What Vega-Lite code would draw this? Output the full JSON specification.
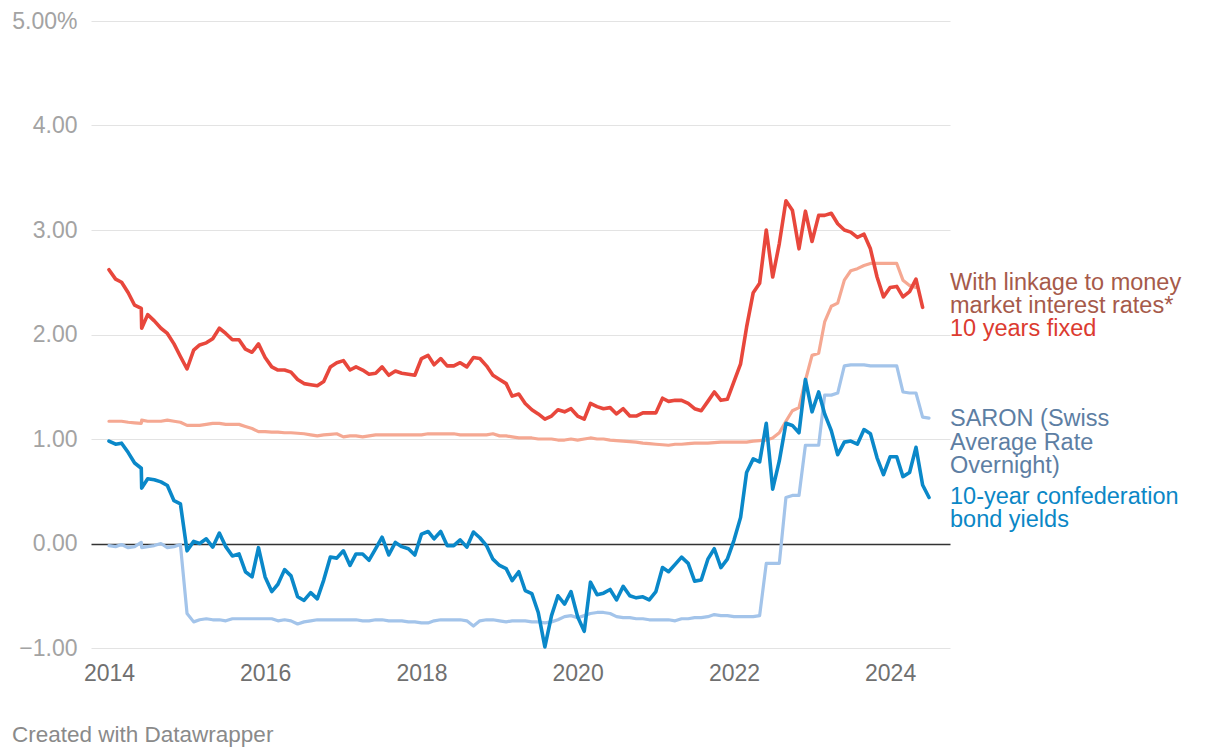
{
  "$schema": "https://vega.github.io/schema/vega-lite/v6.json",
  "width": 859,
  "height": 627,
  "autosize": {"type": "none"},
  "padding": {"left": 91, "top": 21, "right": 270, "bottom": 108},
  "background": "#ffffff",
  "title": {
    "text": "Created with Datawrapper",
    "orient": "bottom",
    "anchor": "start",
    "frame": "group",
    "dx": -79,
    "offset": 39,
    "font": "Liberation Sans",
    "fontSize": 22.5,
    "fontWeight": "normal",
    "color": "#8a8a8a"
  },
  "data": {
    "values": [
      {"date": "2014-01-01", "fixed": 2.62, "linkage": 1.17, "saron": -0.02, "bond": 0.98},
      {"date": "2014-02-01", "fixed": 2.53, "linkage": 1.17, "saron": -0.03, "bond": 0.95},
      {"date": "2014-03-01", "fixed": 2.50, "linkage": 1.17, "saron": -0.01, "bond": 0.96},
      {"date": "2014-04-01", "fixed": 2.40, "linkage": 1.16, "saron": -0.04, "bond": 0.87},
      {"date": "2014-05-01", "fixed": 2.28, "linkage": 1.155, "saron": -0.03, "bond": 0.77},
      {"date": "2014-06-01", "fixed": 2.25, "linkage": 1.15, "saron": 0.01, "bond": 0.72},
      {"date": "2014-06-03", "fixed": 2.06, "linkage": 1.18, "saron": -0.04, "bond": 0.53},
      {"date": "2014-07-01", "fixed": 2.19, "linkage": 1.17, "saron": -0.03, "bond": 0.62},
      {"date": "2014-08-01", "fixed": 2.13, "linkage": 1.17, "saron": -0.02, "bond": 0.61},
      {"date": "2014-09-01", "fixed": 2.06, "linkage": 1.17, "saron": 0.00, "bond": 0.59},
      {"date": "2014-10-01", "fixed": 2.01, "linkage": 1.18, "saron": -0.04, "bond": 0.555},
      {"date": "2014-11-01", "fixed": 1.91, "linkage": 1.17, "saron": -0.03, "bond": 0.41},
      {"date": "2014-12-01", "fixed": 1.79, "linkage": 1.16, "saron": -0.01, "bond": 0.38},
      {"date": "2015-01-01", "fixed": 1.67, "linkage": 1.13, "saron": -0.67, "bond": -0.07},
      {"date": "2015-02-01", "fixed": 1.85, "linkage": 1.13, "saron": -0.75, "bond": 0.02},
      {"date": "2015-03-01", "fixed": 1.90, "linkage": 1.13, "saron": -0.73, "bond": 0.00},
      {"date": "2015-04-01", "fixed": 1.92, "linkage": 1.14, "saron": -0.72, "bond": 0.045},
      {"date": "2015-05-01", "fixed": 1.96, "linkage": 1.15, "saron": -0.73, "bond": -0.035},
      {"date": "2015-06-01", "fixed": 2.06, "linkage": 1.15, "saron": -0.73, "bond": 0.10},
      {"date": "2015-07-01", "fixed": 2.01, "linkage": 1.14, "saron": -0.74, "bond": -0.03},
      {"date": "2015-08-01", "fixed": 1.95, "linkage": 1.14, "saron": -0.72, "bond": -0.12},
      {"date": "2015-09-01", "fixed": 1.95, "linkage": 1.14, "saron": -0.72, "bond": -0.10},
      {"date": "2015-10-01", "fixed": 1.86, "linkage": 1.12, "saron": -0.72, "bond": -0.27},
      {"date": "2015-11-01", "fixed": 1.83, "linkage": 1.10, "saron": -0.72, "bond": -0.32},
      {"date": "2015-12-01", "fixed": 1.91, "linkage": 1.07, "saron": -0.72, "bond": -0.04},
      {"date": "2016-01-01", "fixed": 1.78, "linkage": 1.07, "saron": -0.72, "bond": -0.32},
      {"date": "2016-02-01", "fixed": 1.69, "linkage": 1.065, "saron": -0.72, "bond": -0.46},
      {"date": "2016-03-01", "fixed": 1.66, "linkage": 1.065, "saron": -0.74, "bond": -0.39},
      {"date": "2016-04-01", "fixed": 1.66, "linkage": 1.06, "saron": -0.73, "bond": -0.25},
      {"date": "2016-05-01", "fixed": 1.64, "linkage": 1.06, "saron": -0.74, "bond": -0.31},
      {"date": "2016-06-01", "fixed": 1.57, "linkage": 1.055, "saron": -0.77, "bond": -0.51},
      {"date": "2016-07-01", "fixed": 1.53, "linkage": 1.05, "saron": -0.75, "bond": -0.545},
      {"date": "2016-08-01", "fixed": 1.52, "linkage": 1.04, "saron": -0.74, "bond": -0.47},
      {"date": "2016-09-01", "fixed": 1.51, "linkage": 1.03, "saron": -0.73, "bond": -0.53},
      {"date": "2016-10-01", "fixed": 1.55, "linkage": 1.04, "saron": -0.73, "bond": -0.35},
      {"date": "2016-11-01", "fixed": 1.69, "linkage": 1.045, "saron": -0.73, "bond": -0.13},
      {"date": "2016-12-01", "fixed": 1.73, "linkage": 1.05, "saron": -0.73, "bond": -0.14},
      {"date": "2017-01-01", "fixed": 1.75, "linkage": 1.02, "saron": -0.73, "bond": -0.07},
      {"date": "2017-02-01", "fixed": 1.66, "linkage": 1.03, "saron": -0.73, "bond": -0.21},
      {"date": "2017-03-01", "fixed": 1.69, "linkage": 1.03, "saron": -0.73, "bond": -0.10},
      {"date": "2017-04-01", "fixed": 1.66, "linkage": 1.02, "saron": -0.74, "bond": -0.10},
      {"date": "2017-05-01", "fixed": 1.62, "linkage": 1.03, "saron": -0.74, "bond": -0.16},
      {"date": "2017-06-01", "fixed": 1.63, "linkage": 1.04, "saron": -0.73, "bond": -0.05},
      {"date": "2017-07-01", "fixed": 1.69, "linkage": 1.04, "saron": -0.73, "bond": 0.06},
      {"date": "2017-08-01", "fixed": 1.61, "linkage": 1.04, "saron": -0.74, "bond": -0.11},
      {"date": "2017-09-01", "fixed": 1.65, "linkage": 1.04, "saron": -0.74, "bond": 0.01},
      {"date": "2017-10-01", "fixed": 1.63, "linkage": 1.04, "saron": -0.74, "bond": -0.03},
      {"date": "2017-11-01", "fixed": 1.62, "linkage": 1.04, "saron": -0.75, "bond": -0.05},
      {"date": "2017-12-01", "fixed": 1.61, "linkage": 1.04, "saron": -0.75, "bond": -0.11},
      {"date": "2018-01-01", "fixed": 1.77, "linkage": 1.04, "saron": -0.76, "bond": 0.09},
      {"date": "2018-02-01", "fixed": 1.80, "linkage": 1.05, "saron": -0.76, "bond": 0.115},
      {"date": "2018-03-01", "fixed": 1.71, "linkage": 1.05, "saron": -0.74, "bond": 0.045},
      {"date": "2018-04-01", "fixed": 1.77, "linkage": 1.05, "saron": -0.73, "bond": 0.115},
      {"date": "2018-05-01", "fixed": 1.70, "linkage": 1.05, "saron": -0.73, "bond": -0.02},
      {"date": "2018-06-01", "fixed": 1.70, "linkage": 1.05, "saron": -0.73, "bond": -0.02},
      {"date": "2018-07-01", "fixed": 1.73, "linkage": 1.04, "saron": -0.73, "bond": 0.035},
      {"date": "2018-08-01", "fixed": 1.69, "linkage": 1.04, "saron": -0.74, "bond": -0.035},
      {"date": "2018-09-01", "fixed": 1.78, "linkage": 1.04, "saron": -0.79, "bond": 0.11},
      {"date": "2018-10-01", "fixed": 1.77, "linkage": 1.04, "saron": -0.74, "bond": 0.055},
      {"date": "2018-11-01", "fixed": 1.70, "linkage": 1.04, "saron": -0.73, "bond": -0.02},
      {"date": "2018-12-01", "fixed": 1.61, "linkage": 1.05, "saron": -0.73, "bond": -0.15},
      {"date": "2019-01-01", "fixed": 1.57, "linkage": 1.03, "saron": -0.74, "bond": -0.21},
      {"date": "2019-02-01", "fixed": 1.53, "linkage": 1.03, "saron": -0.75, "bond": -0.24},
      {"date": "2019-03-01", "fixed": 1.41, "linkage": 1.02, "saron": -0.74, "bond": -0.355},
      {"date": "2019-04-01", "fixed": 1.43, "linkage": 1.01, "saron": -0.74, "bond": -0.27},
      {"date": "2019-05-01", "fixed": 1.34, "linkage": 1.01, "saron": -0.74, "bond": -0.45},
      {"date": "2019-06-01", "fixed": 1.28, "linkage": 1.01, "saron": -0.75, "bond": -0.48},
      {"date": "2019-07-01", "fixed": 1.24, "linkage": 1.00, "saron": -0.75, "bond": -0.66},
      {"date": "2019-08-01", "fixed": 1.19, "linkage": 1.00, "saron": -0.76, "bond": -0.99},
      {"date": "2019-09-01", "fixed": 1.22, "linkage": 1.00, "saron": -0.75, "bond": -0.69},
      {"date": "2019-10-01", "fixed": 1.28, "linkage": 0.99, "saron": -0.73, "bond": -0.50},
      {"date": "2019-11-01", "fixed": 1.26, "linkage": 0.99, "saron": -0.70, "bond": -0.58},
      {"date": "2019-12-01", "fixed": 1.29, "linkage": 1.00, "saron": -0.69, "bond": -0.46},
      {"date": "2020-01-01", "fixed": 1.22, "linkage": 0.99, "saron": -0.71, "bond": -0.70},
      {"date": "2020-02-01", "fixed": 1.19, "linkage": 1.00, "saron": -0.69, "bond": -0.84},
      {"date": "2020-03-01", "fixed": 1.34, "linkage": 1.01, "saron": -0.67, "bond": -0.37},
      {"date": "2020-04-01", "fixed": 1.31, "linkage": 1.00, "saron": -0.66, "bond": -0.49},
      {"date": "2020-05-01", "fixed": 1.29, "linkage": 1.00, "saron": -0.66, "bond": -0.475},
      {"date": "2020-06-01", "fixed": 1.30, "linkage": 0.99, "saron": -0.67, "bond": -0.44},
      {"date": "2020-07-01", "fixed": 1.24, "linkage": 0.985, "saron": -0.70, "bond": -0.54},
      {"date": "2020-08-01", "fixed": 1.29, "linkage": 0.98, "saron": -0.71, "bond": -0.41},
      {"date": "2020-09-01", "fixed": 1.22, "linkage": 0.975, "saron": -0.71, "bond": -0.50},
      {"date": "2020-10-01", "fixed": 1.22, "linkage": 0.97, "saron": -0.72, "bond": -0.52},
      {"date": "2020-11-01", "fixed": 1.25, "linkage": 0.96, "saron": -0.72, "bond": -0.51},
      {"date": "2020-12-01", "fixed": 1.25, "linkage": 0.955, "saron": -0.73, "bond": -0.54},
      {"date": "2021-01-01", "fixed": 1.25, "linkage": 0.95, "saron": -0.73, "bond": -0.46},
      {"date": "2021-02-01", "fixed": 1.39, "linkage": 0.945, "saron": -0.73, "bond": -0.23},
      {"date": "2021-03-01", "fixed": 1.36, "linkage": 0.94, "saron": -0.73, "bond": -0.27},
      {"date": "2021-04-01", "fixed": 1.37, "linkage": 0.95, "saron": -0.74, "bond": -0.20},
      {"date": "2021-05-01", "fixed": 1.37, "linkage": 0.95, "saron": -0.72, "bond": -0.13},
      {"date": "2021-06-01", "fixed": 1.34, "linkage": 0.955, "saron": -0.72, "bond": -0.19},
      {"date": "2021-07-01", "fixed": 1.29, "linkage": 0.96, "saron": -0.71, "bond": -0.36},
      {"date": "2021-08-01", "fixed": 1.27, "linkage": 0.96, "saron": -0.71, "bond": -0.35},
      {"date": "2021-09-01", "fixed": 1.36, "linkage": 0.96, "saron": -0.70, "bond": -0.15},
      {"date": "2021-10-01", "fixed": 1.45, "linkage": 0.965, "saron": -0.68, "bond": -0.05},
      {"date": "2021-11-01", "fixed": 1.37, "linkage": 0.97, "saron": -0.69, "bond": -0.23},
      {"date": "2021-12-01", "fixed": 1.38, "linkage": 0.97, "saron": -0.69, "bond": -0.15},
      {"date": "2022-01-01", "fixed": 1.55, "linkage": 0.97, "saron": -0.70, "bond": 0.03},
      {"date": "2022-02-01", "fixed": 1.72, "linkage": 0.97, "saron": -0.70, "bond": 0.25},
      {"date": "2022-03-01", "fixed": 2.07, "linkage": 0.97, "saron": -0.70, "bond": 0.68},
      {"date": "2022-04-01", "fixed": 2.40, "linkage": 0.98, "saron": -0.70, "bond": 0.81},
      {"date": "2022-05-01", "fixed": 2.49, "linkage": 0.985, "saron": -0.69, "bond": 0.78},
      {"date": "2022-06-01", "fixed": 3.00, "linkage": 0.99, "saron": -0.19, "bond": 1.15},
      {"date": "2022-07-01", "fixed": 2.55, "linkage": 1.01, "saron": -0.19, "bond": 0.52},
      {"date": "2022-08-01", "fixed": 2.87, "linkage": 1.06, "saron": -0.19, "bond": 0.79},
      {"date": "2022-09-01", "fixed": 3.28, "linkage": 1.17, "saron": 0.44, "bond": 1.15},
      {"date": "2022-10-01", "fixed": 3.19, "linkage": 1.27, "saron": 0.46, "bond": 1.13},
      {"date": "2022-11-01", "fixed": 2.82, "linkage": 1.30, "saron": 0.46, "bond": 1.06},
      {"date": "2022-12-01", "fixed": 3.18, "linkage": 1.56, "saron": 0.94, "bond": 1.57},
      {"date": "2023-01-01", "fixed": 2.89, "linkage": 1.80, "saron": 0.94, "bond": 1.26},
      {"date": "2023-02-01", "fixed": 3.14, "linkage": 1.82, "saron": 0.94, "bond": 1.45},
      {"date": "2023-03-01", "fixed": 3.14, "linkage": 2.12, "saron": 1.42, "bond": 1.24},
      {"date": "2023-04-01", "fixed": 3.16, "linkage": 2.27, "saron": 1.42, "bond": 1.08},
      {"date": "2023-05-01", "fixed": 3.06, "linkage": 2.30, "saron": 1.44, "bond": 0.85},
      {"date": "2023-06-01", "fixed": 3.00, "linkage": 2.52, "saron": 1.70, "bond": 0.97},
      {"date": "2023-07-01", "fixed": 2.98, "linkage": 2.61, "saron": 1.71, "bond": 0.98},
      {"date": "2023-08-01", "fixed": 2.93, "linkage": 2.63, "saron": 1.71, "bond": 0.95},
      {"date": "2023-09-01", "fixed": 2.96, "linkage": 2.66, "saron": 1.71, "bond": 1.09},
      {"date": "2023-10-01", "fixed": 2.82, "linkage": 2.68, "saron": 1.70, "bond": 1.05},
      {"date": "2023-11-01", "fixed": 2.55, "linkage": 2.68, "saron": 1.70, "bond": 0.82},
      {"date": "2023-12-01", "fixed": 2.36, "linkage": 2.68, "saron": 1.70, "bond": 0.66},
      {"date": "2024-01-01", "fixed": 2.45, "linkage": 2.68, "saron": 1.70, "bond": 0.83},
      {"date": "2024-02-01", "fixed": 2.46, "linkage": 2.68, "saron": 1.70, "bond": 0.83},
      {"date": "2024-03-01", "fixed": 2.36, "linkage": 2.52, "saron": 1.45, "bond": 0.64},
      {"date": "2024-04-01", "fixed": 2.41, "linkage": 2.47, "saron": 1.44, "bond": 0.68},
      {"date": "2024-05-01", "fixed": 2.53, "linkage": 2.45, "saron": 1.44, "bond": 0.92},
      {"date": "2024-06-01", "fixed": 2.26, "linkage": null, "saron": 1.21, "bond": 0.56},
      {"date": "2024-07-01", "fixed": null, "linkage": null, "saron": 1.20, "bond": 0.44}
    ]
  },
  "encoding": {
    "x": {
      "field": "date",
      "type": "temporal",
      "scale": {
        "type": "utc",
        "domain": [
          {"year": 2013, "month": 10, "date": 9, "utc": true},
          {"year": 2024, "month": 10, "date": 7, "utc": true}
        ]
      },
      "axis": {
        "title": null,
        "values": [
          {"year": 2014, "utc": true},
          {"year": 2016, "utc": true},
          {"year": 2018, "utc": true},
          {"year": 2020, "utc": true},
          {"year": 2022, "utc": true},
          {"year": 2024, "utc": true}
        ],
        "format": "%Y",
        "grid": false,
        "domain": false,
        "ticks": false,
        "tickSize": 0,
        "labelPadding": 14,
        "labelFont": "Liberation Sans",
        "labelFontSize": 23,
        "labelColor": "#707070",
        "labelFlush": false,
        "labelOverlap": false
      }
    },
    "y": {
      "field": "value",
      "type": "quantitative",
      "scale": {"domain": [-1, 5], "nice": false, "zero": false},
      "axis": {
        "title": null,
        "values": [-1, 0, 1, 2, 3, 4, 5],
        "labelExpr": "datum.value == 5 ? '5.00%' : format(datum.value, '.2f')",
        "grid": true,
        "gridColor": {"condition": {"test": "datum.value === 0", "value": "#333333"}, "value": "#e3e3e3"},
        "gridWidth": {"condition": {"test": "datum.value === 0", "value": 1.6}, "value": 1},
        "domain": false,
        "ticks": false,
        "tickSize": 0,
        "labelPadding": 14,
        "labelFont": "Liberation Sans",
        "labelFontSize": 23,
        "labelColor": "#a3a3a3"
      }
    }
  },
  "layer": [
    {
      "transform": [{"fold": ["linkage"], "as": ["series", "value"]}],
      "mark": {"type": "line", "color": "#f5a892", "strokeWidth": 3.2, "strokeJoin": "round", "strokeCap": "round"}
    },
    {
      "transform": [{"fold": ["saron"], "as": ["series", "value"]}],
      "mark": {"type": "line", "color": "#a3c4ea", "strokeWidth": 3.2, "strokeJoin": "round", "strokeCap": "round"}
    },
    {
      "transform": [{"fold": ["fixed"], "as": ["series", "value"]}],
      "mark": {"type": "line", "color": "#e8473c", "strokeWidth": 3.6, "strokeJoin": "round", "strokeCap": "round"}
    },
    {
      "transform": [{"fold": ["bond"], "as": ["series", "value"]}],
      "mark": {"type": "line", "color": "#0a88c9", "strokeWidth": 3.6, "strokeJoin": "round", "strokeCap": "round"}
    },
    {
      "data": {
        "values": [
          {"date": "2024-10-07", "value": 2.493, "series": "linkage", "text": "With linkage to money\nmarket interest rates*"},
          {"date": "2024-10-07", "value": 2.05, "series": "fixed", "text": "10 years fixed"},
          {"date": "2024-10-07", "value": 1.188, "series": "saron", "text": "SARON (Swiss\nAverage Rate\nOvernight)"},
          {"date": "2024-10-07", "value": 0.448, "series": "bond", "text": "10-year confederation\nbond yields"}
        ]
      },
      "mark": {
        "type": "text",
        "align": "left",
        "baseline": "middle",
        "lineBreak": "\n",
        "lineHeight": 23.3,
        "font": "Liberation Sans",
        "fontSize": 23.5
      },
      "encoding": {
        "text": {"field": "text", "type": "nominal"},
        "color": {
          "field": "series",
          "type": "nominal",
          "scale": {
            "domain": ["linkage", "fixed", "saron", "bond"],
            "range": ["#a65a4a", "#dc3b30", "#5d7ea3", "#0b87c6"]
          },
          "legend": null
        }
      }
    }
  ],
  "config": {
    "view": {"stroke": null}
  }
}
